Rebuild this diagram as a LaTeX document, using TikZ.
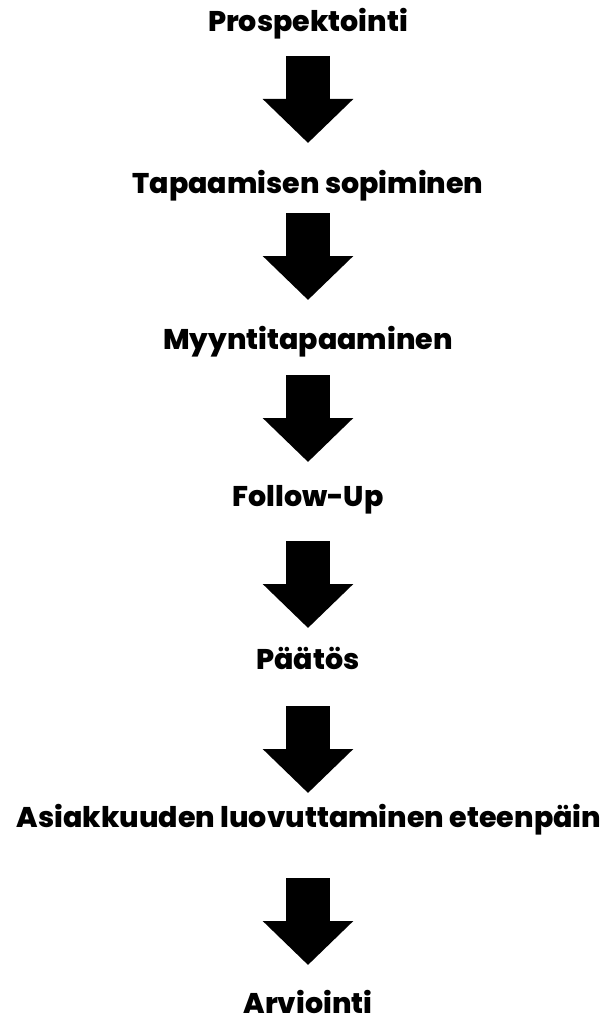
\documentclass[tikz,border=0pt]{standalone}
\usepackage{fontspec}
\newfontfamily\stepfont[BoldFont={Poppins ExtraBold}]{Poppins}
\usetikzlibrary{arrows.meta}
\begin{document}
\begin{tikzpicture}[x=1pt,y=-1pt,color=black,
  every node/.style={font=\stepfont\bfseries\fontsize{28.5}{30}\selectfont,anchor=base,inner sep=0pt},
  flow/.style={line width=44pt,line cap=butt,-{Triangle[length=44pt,width=88pt]}}]
\useasboundingbox (0,0) rectangle (605,1022);
\node (prosp) at (308,32) {Prospektointi};
\node (tapaam) at (308,193) {Tapaamisen sopiminen};
\node (myynti) at (308,349) {Myyntitapaaminen};
\node (follow) at (308,506) {Follow-Up};
\node (paatos) at (308,669) {Päätös};
\node (luovutus) at (309,827) {Asiakkuuden luovuttaminen eteenpäin};
\node (arvio) at (308,1013) {Arviointi};
\foreach \t/\b [count=\i] in {56/143,213/300,375/462,541/628,706/793,878/965} {
	\coordinate (top\i) at (308,\t);
	\coordinate (tip\i) at (308,\b);
	\draw[flow] (top\i) -- (tip\i);
}
\end{tikzpicture}
\end{document}
